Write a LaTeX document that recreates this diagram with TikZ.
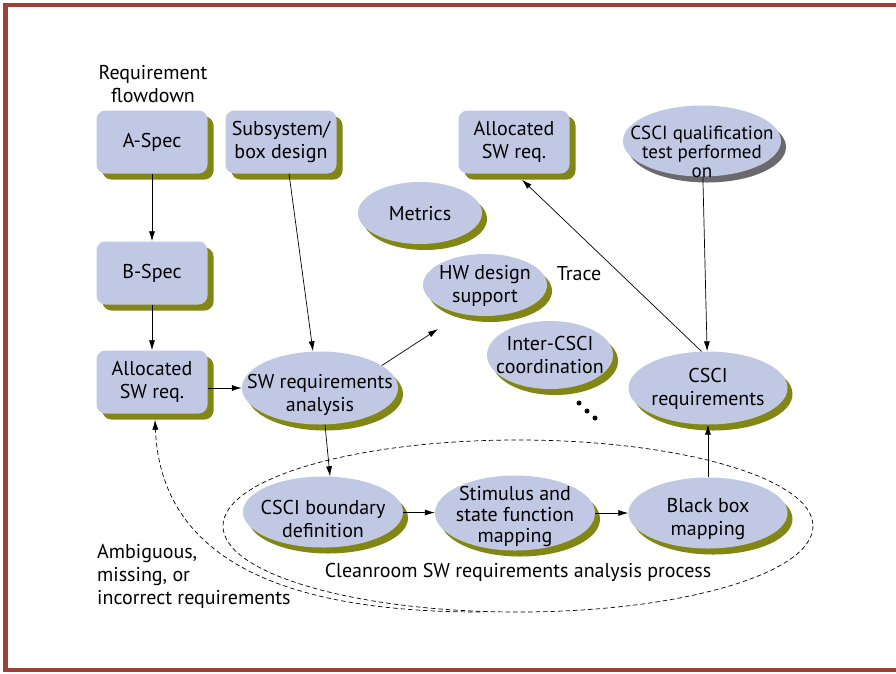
\documentclass[tikz,border=0pt]{standalone}
\usepackage{fontspec}
\setmainfont{PT Sans}
\usetikzlibrary{shapes.geometric,shadows,arrows.meta}
\definecolor{framered}{RGB}{158,64,52}
\definecolor{boxfill}{RGB}{192,200,228}
\definecolor{olivesh}{RGB}{130,134,18}
\definecolor{greysh}{RGB}{105,105,110}
\begin{document}
\begin{tikzpicture}[x=1pt,y=-1pt,
  lbl/.style={font=\fontsize{20}{23}\selectfont, align=center, text=black},
  card/.style={lbl, rectangle, rounded corners=9pt, fill=boxfill,
    minimum width=111pt, minimum height=63pt, inner sep=0pt,
    drop shadow={shadow xshift=6pt, shadow yshift=-6pt, fill=olivesh, opacity=1}},
  % ellipses keep a fixed size; their text is set as a centred label
  oval/.style={ellipse, fill=boxfill, inner sep=0pt,
    drop shadow={shadow xshift=5pt, shadow yshift=-6pt, fill=olivesh, opacity=1}},
  greyoval/.style={ellipse, fill=boxfill, inner sep=0pt,
    drop shadow={shadow xshift=5pt, shadow yshift=-6pt, fill=greysh, opacity=1}},
  txt/.style={label={[lbl, yshift=-3pt]center:#1}},
  txtat/.style 2 args={label={[lbl, yshift=#1]center:#2}},
  link/.style={-{Latex[length=10pt,width=6pt]}, line width=0.7pt},
  loop/.style={dashed, dash pattern=on 4.5pt off 3pt, line width=0.7pt},
]
\useasboundingbox (0,0) rectangle (896,673);
% frame
\fill[framered] (3,3) rectangle (896,6.5);
\fill[framered] (3,3) rectangle (7.5,672);
\fill[framered] (3,668) rectangle (896,672);

% process boundary
\draw[loop] (518,526) ellipse [x radius=295, y radius=86];

% rectangular cards
\node[card] (aspec) at (152,142) {A-Spec};
\node[card] (subsys) at (281,142) {Subsystem/\\box design};
\node[card] (bspec) at (152,273) {B-Spec};
\node[card] (allocL) at (152,382) {Allocated\\SW req.};
\node[card] (allocT) at (514,142) {Allocated\\SW req.};

% ovals
\node[greyoval, minimum width=158pt, minimum height=71pt,
  label={[lbl, font=\fontsize{19}{19}\selectfont, yshift=-11pt]center:CSCI qualification\\test performed\\on}]
  (qual) at (702,141) {};
\node[oval, minimum width=124pt, minimum height=62pt, txtat={-1pt}{Metrics}] (metrics) at (420,213) {};
\node[oval, minimum width=124pt, minimum height=62pt, txtat={-1pt}{HW design\\support}] (hw) at (485,285) {};
\node[oval, minimum width=126pt, minimum height=68pt, txtat={0pt}{Inter-CSCI\\coordination}] (inter) at (550,355) {};
\node[oval, minimum width=156pt, minimum height=73pt, txtat={-7pt}{SW requirements\\analysis}] (swra) at (320,388) {};
\node[oval, minimum width=159pt, minimum height=73pt, txtat={-1pt}{CSCI\\requirements}] (cscireq) at (708,388) {};
\node[oval, minimum width=160pt, minimum height=71pt, txtat={-7pt}{CSCI boundary\\definition}] (bound) at (323,512) {};
\node[oval, minimum width=160pt, minimum height=75pt,
  label={[lbl, font=\fontsize{20}{21}\selectfont, yshift=-3pt]center:Stimulus and\\state function\\mapping}] (stim) at (515,513) {};
\node[oval, minimum width=159pt, minimum height=71pt, txtat={-6pt}{Black box\\mapping}] (bbox) at (708,513) {};

% free text
\node[lbl] (flow) at (153,84) {Requirement\\flowdown};
\node[lbl] (trace) at (579,274) {Trace};
\node[lbl] (clean) at (518,572) {Cleanroom SW requirements analysis process};
\node[lbl, align=left, anchor=north west, inner sep=0pt] (amb) at (97,544)
  {Ambiguous,\\missing, or\\incorrect requirements};

% ellipsis dots
\fill (579,403) circle (2.5);
\fill (587,411) circle (2.5);
\fill (595,418) circle (2.5);

% connectors
\coordinate (hwtip) at (438,329);
\coordinate (backtip) at ([shift={(3,6)}]allocL.south);
\draw[link] (aspec) -- (bspec);
\draw[link] (bspec) -- (allocL);
\draw[link] ([xshift=8pt]subsys.south) -- ([xshift=-7pt]swra.north);
\draw[link] (allocL.east |- swra.west) -- (swra.west);
\draw[link] (swra.20) -- (hwtip);
\draw[link] ([xshift=5pt]swra.south) -- ([xshift=7pt]bound.north);
\draw[link] (bound) -- (stim);
\draw[link] (stim) -- (bbox);
\draw[link] (bbox) -- (cscireq);
\draw[link] (qual) -- (cscireq);
\draw[link] (cscireq.100) -- ([shift={(8,6)}]allocT.south);
\draw[loop, -{Latex[length=10pt,width=6pt]}] (480,612) .. controls (250,612) and (160,540) .. (backtip);
\end{tikzpicture}
\end{document}
